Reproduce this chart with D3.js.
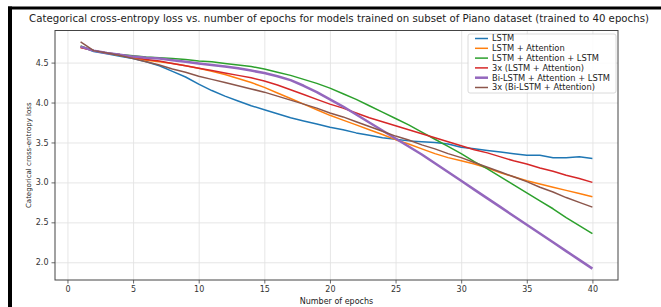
<!DOCTYPE html>
<html>
<head>
<meta charset="utf-8">
<script src="https://cdn.jsdelivr.net/npm/d3@7"></script>
<style>
  body { margin: 0; background: #fff; }
  svg { display: block; font-family: "DejaVu Sans", sans-serif; }
</style>
</head>
<body>
<div id="chart"></div>
<script>
// DATA
var epochs = d3.range(1, 41);
var seriesNames = ["LSTM", "LSTM + Attention", "LSTM + Attention + LSTM",
  "3x (LSTM + Attention)", "Bi-LSTM + Attention + LSTM", "3x (Bi-LSTM + Attention)"];
var lstm = [4.70, 4.64, 4.61, 4.58, 4.55, 4.51, 4.46, 4.39, 4.32, 4.23,
  4.15, 4.08, 4.02, 3.96, 3.91, 3.86, 3.81, 3.77, 3.73, 3.69,
  3.66, 3.62, 3.59, 3.56, 3.54, 3.52, 3.51, 3.50, 3.48, 3.44,
  3.42, 3.40, 3.38, 3.36, 3.34, 3.34, 3.31, 3.31, 3.32, 3.30];
var lstmAtt = [4.69, 4.65, 4.62, 4.59, 4.56, 4.53, 4.51, 4.49, 4.46, 4.43,
  4.39, 4.35, 4.30, 4.25, 4.19, 4.12, 4.05, 3.98, 3.91, 3.84,
  3.78, 3.72, 3.66, 3.60, 3.535, 3.48, 3.42, 3.36, 3.31, 3.27,
  3.23, 3.18, 3.12, 3.07, 3.02, 2.98, 2.94, 2.90, 2.86, 2.82];
var lstmAttLstm = [4.71, 4.65, 4.62, 4.60, 4.585, 4.57, 4.56, 4.55, 4.54, 4.52,
  4.51, 4.49, 4.47, 4.45, 4.42, 4.38, 4.34, 4.29, 4.24, 4.18,
  4.11, 4.04, 3.96, 3.88, 3.80, 3.72, 3.63, 3.54, 3.45, 3.36,
  3.26, 3.17, 3.07, 2.97, 2.87, 2.77, 2.67, 2.56, 2.46, 2.36];
var x3LstmAtt = [4.69, 4.65, 4.62, 4.60, 4.57, 4.54, 4.52, 4.49, 4.46, 4.43,
  4.40, 4.37, 4.34, 4.31, 4.27, 4.22, 4.16, 4.10, 4.04, 3.98,
  3.93, 3.87, 3.81, 3.76, 3.71, 3.66, 3.61, 3.56, 3.51, 3.46,
  3.41, 3.37, 3.32, 3.27, 3.23, 3.18, 3.14, 3.09, 3.05, 3.00];
var biLstm = [4.70, 4.65, 4.62, 4.60, 4.575, 4.56, 4.55, 4.53, 4.51, 4.49,
  4.47, 4.45, 4.43, 4.40, 4.37, 4.33, 4.28, 4.21, 4.13, 4.04,
  3.95, 3.85, 3.75, 3.65, 3.55, 3.45, 3.35, 3.24, 3.13, 3.02,
  2.91, 2.80, 2.69, 2.58, 2.47, 2.36, 2.25, 2.14, 2.03, 1.92];
var x3BiLstm = [4.76, 4.65, 4.62, 4.59, 4.55, 4.51, 4.47, 4.42, 4.38, 4.33,
  4.29, 4.25, 4.21, 4.17, 4.13, 4.08, 4.03, 3.98, 3.93, 3.87,
  3.82, 3.76, 3.70, 3.64, 3.58, 3.53, 3.47, 3.42, 3.36, 3.31,
  3.25, 3.19, 3.13, 3.07, 3.01, 2.94, 2.88, 2.81, 2.75, 2.69];
var xTicks = [0, 5, 10, 15, 20, 25, 30, 35, 40];
var yTicks = [2.0, 2.5, 3.0, 3.5, 4.0, 4.5];

var allSeries = [lstm, lstmAtt, lstmAttLstm, x3LstmAtt, biLstm, x3BiLstm];
var colors = ["#1f77b4", "#ff7f0e", "#2ca02c", "#d62728", "#9467bd", "#8c564b"];
var widths = [1.5, 1.5, 1.5, 1.5, 2.5, 1.5];

var W = 661, H = 307;
var margin = {top: 30.5, right: 43, bottom: 27, left: 55},
    width = W - margin.left - margin.right,
    height = H - margin.top - margin.bottom;

var svg = d3.select("#chart").append("svg")
    .attr("width", W)
    .attr("height", H);

// BLACK FRAME (top + left)
svg.append("rect").attr("x", 8).attr("y", 6.5).attr("width", W - 8).attr("height", 3).attr("fill", "#000");
svg.append("rect").attr("x", 8).attr("y", 6.5).attr("width", 4).attr("height", H - 6.5).attr("fill", "#000");

// TITLE
svg.append("text")
  .attr("x", 339)
  .attr("y", 22)
  .attr("text-anchor", "middle")
  .attr("font-size", 10.2)
  .attr("fill", "#222")
  .text("Categorical cross-entropy loss vs. number of epochs for models trained on subset of Piano dataset (trained to 40 epochs)");

var g = svg.append("g")
  .attr("transform", "translate(" + margin.left + "," + margin.top + ")");

var allVals = d3.merge(allSeries);
var ymin = d3.min(allVals), ymax = d3.max(allVals);
var ypad = (ymax - ymin) * 0.05;
var xpad = (40 - 1) * 0.05;

var x = d3.scaleLinear().domain([1 - xpad, 40 + xpad]).range([0, width]);
var y = d3.scaleLinear().domain([ymin - ypad, ymax + ypad]).range([height, 0]);

// GRID
g.append("g")
  .attr("class", "grid")
  .attr("transform", "translate(0," + height + ")")
  .call(d3.axisBottom(x).tickValues(xTicks).tickSize(-height).tickFormat(""));
g.append("g")
  .attr("class", "grid")
  .call(d3.axisLeft(y).tickValues(yTicks).tickSize(-width).tickFormat(""));
g.selectAll(".grid line").attr("stroke", "#e3e3e3").attr("stroke-width", 0.9);
g.selectAll(".grid .domain").remove();

// LINES
var line = d3.line()
  .x(function(d, i) { return x(epochs[i]); })
  .y(function(d) { return y(d); });

allSeries.forEach(function(s, k) {
  g.append("path")
    .datum(s)
    .attr("fill", "none")
    .attr("stroke", colors[k])
    .attr("stroke-width", widths[k])
    .attr("stroke-linejoin", "round")
    .attr("d", line);
});

// AXES
var xAxis = g.append("g")
  .attr("transform", "translate(0," + height + ")")
  .call(d3.axisBottom(x).tickValues(xTicks).tickSize(3.5).tickPadding(3).tickFormat(d3.format("d")));
var yAxis = g.append("g")
  .call(d3.axisLeft(y).tickValues(yTicks).tickSize(3.5).tickPadding(3).tickFormat(d3.format(".1f")));
[xAxis, yAxis].forEach(function(a) {
  a.selectAll("text").attr("font-size", 8).attr("fill", "#333").attr("font-family", "DejaVu Sans");
  a.selectAll("line").attr("stroke", "#444").attr("stroke-width", 0.8);
  a.select(".domain").remove();
});

// SPINES
g.append("rect")
  .attr("width", width).attr("height", height)
  .attr("fill", "none").attr("stroke", "#444").attr("stroke-width", 1);

// AXIS LABELS
g.append("text")
  .attr("x", width / 2)
  .attr("y", height + 24)
  .attr("text-anchor", "middle")
  .attr("font-size", 8)
  .attr("fill", "#222")
  .text("Number of epochs");
g.append("text")
  .attr("transform", "translate(" + (-24) + "," + (height / 2) + ") rotate(-90)")
  .attr("text-anchor", "middle")
  .attr("font-size", 7)
  .attr("fill", "#222")
  .text("Categorical cross-entropy loss");

// LEGEND
var lx = 468 - margin.left, ly = 34 - margin.top;
var legend = g.append("g").attr("transform", "translate(" + lx + "," + ly + ")");
legend.append("rect")
  .attr("width", 148).attr("height", 59).attr("rx", 2)
  .attr("fill", "#fff").attr("fill-opacity", 0.85)
  .attr("stroke", "#d0d0d0").attr("stroke-width", 0.8);
seriesNames.forEach(function(n, k) {
  var yy = 4.5 + k * 9.8;
  legend.append("line")
    .attr("x1", 7).attr("x2", 20).attr("y1", yy).attr("y2", yy)
    .attr("stroke", colors[k]).attr("stroke-width", widths[k]);
  legend.append("text")
    .attr("x", 24).attr("y", yy + 2.9)
    .attr("font-size", 8.3)
    .attr("fill", "#222")
    .text(n);
});
</script>
</body>
</html>
